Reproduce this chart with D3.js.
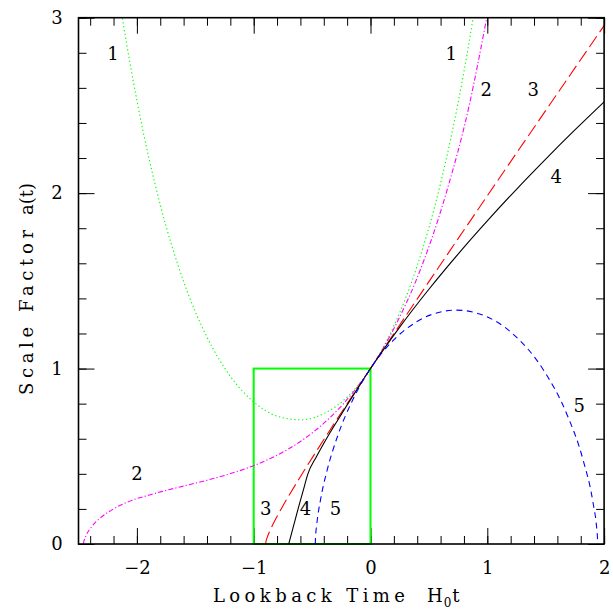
<!DOCTYPE html>
<html>
<head>
<meta charset="utf-8">
<script src="https://cdn.jsdelivr.net/npm/d3@7"></script>
<style>
  html, body { margin: 0; padding: 0; background: #fff; }
  svg text { font-family: "DejaVu Serif", "Liberation Serif", serif; fill: #000; }
</style>
</head>
<body>
<div id="chart"></div>
<script>
// lookback time H0 t  vs  scale factor a(t), one array per model
const model1 = [[-2.2, 3.326], [-2.12, 2.979], [-2.0, 2.528], [-1.8, 1.934], [-1.6, 1.496], [-1.4, 1.179],
  [-1.2, 0.956], [-1.0, 0.81], [-0.8, 0.729], [-0.6, 0.708], [-0.4, 0.743], [-0.2, 0.838], [0, 1],
  [0.2, 1.243], [0.4, 1.586], [0.6, 2.056], [0.8, 2.693], [0.88, 3.005], [0.95, 3.309]];

const model2 = [[-2.458, 0], [-2.452, 0.02], [-2.434, 0.05], [-2.386, 0.1], [-2.31, 0.15], [-2.2, 0.2],
  [-2.04, 0.25], [-1.915, 0.275], [-1.782, 0.3], [-1.632, 0.325], [-1.48, 0.35], [-1.335, 0.375],
  [-1.204, 0.4], [-0.987, 0.45], [-0.818, 0.5], [-0.566, 0.6], [-0.38, 0.7], [-0.231, 0.8],
  [-0.107, 0.9], [0, 1], [0.217, 1.25], [0.389, 1.5], [0.648, 2.0], [0.845, 2.5], [0.995, 3.0]];

const model3 = [[-0.898, 0], [-0.8948, 0.0142], [-0.8879, 0.0302], [-0.8614, 0.0751], [-0.8029, 0.1535],
  [-0.7552, 0.2109], [-0.6903, 0.2851], [-0.6031, 0.3807], [-0.4872, 0.5038], [-0.4006, 0.5939],
  [-0.2987, 0.6987], [-0.1787, 0.8205], [0, 1], [0.1875, 1.1868], [0.4657, 1.4616], [1.0075, 1.9921],
  [1.348, 2.3234], [1.745, 2.7082], [2.0, 2.955]];

const model4 = [[-0.7, 0], [-0.66, 0.1], [-0.62, 0.2], [-0.578, 0.3], [-0.536, 0.4],
  [-0.461, 0.5], [-0.377, 0.6], [-0.286, 0.7], [-0.193, 0.8], [-0.0975, 0.9], [0, 1], [0.25, 1.2365],
  [0.5, 1.4522], [0.75, 1.6529], [1.0, 1.842], [1.25, 2.022], [1.5, 2.194], [1.75, 2.36], [2.0, 2.52]];

const model5 = [[-0.4728, 0], [-0.4711, 0.0298], [-0.4592, 0.1165], [-0.4279, 0.2523], [-0.3696, 0.4251],
  [-0.2794, 0.6195], [-0.1548, 0.8181], [0, 1], [0.191, 1.1583], [0.4019, 1.2694], [0.6276, 1.3267],
  [0.7364, 1.3333], [0.9342, 1.3112], [1.2253, 1.194], [1.4793, 0.9935], [1.6802, 0.7415],
  [1.8208, 0.4775], [1.9031, 0.2435], [1.9384, 0.0763], [1.9441, 0.0265], [1.9456, 0]];

// the "today" box: lookback -1..0, scale factor 0..1
const boxT = [-1, 0];
const boxA = [0, 1];

// curve numbers, placed in data units
const curveLabels = [['1', -2.205, 2.795], ['1', 0.692, 2.795], ['2', 0.991, 2.59], ['3', 1.393, 2.59],
  ['4', 1.59, 2.094], ['5', 1.786, 0.787], ['2', -2.0, 0.4], ['3', -0.897, 0.2], ['4', -0.556, 0.2],
  ['5', -0.299, 0.2]];

const xMajor = [-2, -1, 0, 1, 2];
const yMajor = [0, 1, 2, 3];
const xMinor = d3.range(-12, 11).map(i => i / 5);
const yMinor = d3.range(0, 16).map(i => i / 5);

const W = 613;
const H = 610;
const plot = { left: 78.5, right: 604.1, top: 17.7, bottom: 544 };
const FONT = 18;

const svg = d3.select('#chart')
  .append('svg')
  .attr('width', W)
  .attr('height', H);

const x = d3.scaleLinear().domain([-2.5, 2]).range([plot.left, plot.right]);
const y = d3.scaleLinear().domain([0, 3]).range([plot.bottom, plot.top]);

svg.append('clipPath')
  .attr('id', 'clip')
  .append('rect')
  .attr('x', plot.left)
  .attr('y', plot.top)
  .attr('width', plot.right - plot.left)
  .attr('height', plot.bottom - plot.top);

// ticks on all four sides, pointing inward
const addTicks = (axis, transform, values, size, labels) => {
  const g = svg.append('g')
    .attr('transform', transform)
    .call(axis.tickValues(values).tickSize(-size).tickSizeOuter(0).tickPadding(labels ? 17.5 : 0)
      .tickFormat(labels ? d3.format('d') : ''));
  g.select('.domain').remove();
  g.selectAll('line').attr('stroke', '#000').attr('stroke-width', 1);
  g.selectAll('text').attr('font-size', FONT).style('font-family', '"DejaVu Serif", serif');
  return g;
};

addTicks(d3.axisBottom(x), `translate(0,${plot.bottom})`, xMinor, 8, false);
addTicks(d3.axisBottom(x), `translate(0,${plot.bottom})`, xMajor, 16, true);
addTicks(d3.axisTop(x), `translate(0,${plot.top})`, xMinor, 8, false);
addTicks(d3.axisTop(x), `translate(0,${plot.top})`, xMajor, 16, false);
addTicks(d3.axisLeft(y), `translate(${plot.left},0)`, yMinor, 8, false);
const yl = addTicks(d3.axisLeft(y), `translate(${plot.left},0)`, yMajor, 16, true);
yl.selectAll('text').attr('x', -21.5).attr('text-anchor', 'middle');
addTicks(d3.axisRight(y), `translate(${plot.right},0)`, yMinor, 8, false);
addTicks(d3.axisRight(y), `translate(${plot.right},0)`, yMajor, 16, false);

// green box
svg.append('rect')
  .attr('x', x(boxT[0]))
  .attr('y', y(boxA[1]))
  .attr('width', x(boxT[1]) - x(boxT[0]))
  .attr('height', y(boxA[0]) - y(boxA[1]))
  .attr('fill', 'none')
  .attr('stroke', '#00ff00')
  .attr('stroke-width', 2);

const line = d3.line()
  .x(d => x(d[0]))
  .y(d => y(d[1]))
  .curve(d3.curveMonotoneX);

const curves = [
  { data: model1, color: '#00ff00', dash: '1.3,2.6' },
  { data: model2, color: '#ff00ff', dash: '5,2.2,1.2,2.2' },
  { data: model3, color: '#ff0000', dash: '13,5' },
  { data: model4, color: '#000000', dash: null },
  { data: model5, color: '#0000ff', dash: '6,4.5' }
];

svg.append('g')
  .attr('clip-path', 'url(#clip)')
  .selectAll('path')
  .data(curves)
  .enter()
  .append('path')
  .attr('d', d => line(d.data))
  .attr('fill', 'none')
  .attr('stroke', d => d.color)
  .attr('stroke-width', 1.1)
  .attr('stroke-dasharray', d => d.dash);

// frame
svg.append('rect')
  .attr('x', plot.left)
  .attr('y', plot.top)
  .attr('width', plot.right - plot.left)
  .attr('height', plot.bottom - plot.top)
  .attr('fill', 'none')
  .attr('stroke', '#000')
  .attr('stroke-width', 1.6);

svg.append('g')
  .selectAll('text')
  .data(curveLabels)
  .enter()
  .append('text')
  .attr('x', d => x(d[1]))
  .attr('y', d => y(d[2]))
  .attr('dy', '0.36em')
  .attr('text-anchor', 'middle')
  .attr('font-size', FONT)
  .text(d => d[0]);

// axis titles
svg.append('text')
  .attr('x', 213)
  .attr('y', 602)
  .attr('font-size', FONT)
  .attr('textLength', 192)
  .attr('lengthAdjust', 'spacing')
  .text('Lookback Time');

const h0t = svg.append('text')
  .attr('x', 427)
  .attr('y', 602)
  .attr('font-size', FONT);
h0t.append('tspan').text('H');
h0t.append('tspan').attr('font-size', 12).attr('dy', 5).attr('dx', 1).text('0');
h0t.append('tspan').attr('dy', -5).attr('dx', 1).text('t');

const ytitle = svg.append('g').attr('transform', 'translate(33,0) rotate(-90)');
ytitle.append('text')
  .attr('x', -395)
  .attr('y', 0)
  .attr('font-size', FONT)
  .attr('textLength', 165)
  .attr('lengthAdjust', 'spacing')
  .text('Scale Factor');
ytitle.append('text')
  .attr('x', -215)
  .attr('y', 0)
  .attr('font-size', FONT)
  .attr('textLength', 32)
  .attr('lengthAdjust', 'spacing')
  .text('a(t)');
</script>
</body>
</html>
